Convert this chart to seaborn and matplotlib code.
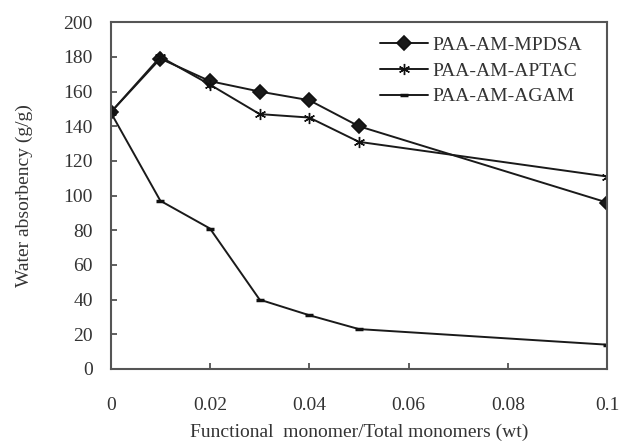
import matplotlib
matplotlib.use("Agg")
import matplotlib.pyplot as plt
import seaborn as sns
import pandas as pd

# data
ratio = [0, 0.01, 0.02, 0.03, 0.04, 0.05, 0.1]
mpdsa = [148, 179, 166, 160, 155, 140, 96]
aptac = [148, 180, 164, 147, 145, 131, 111]
agam = [148, 97, 81, 40, 31, 23, 14]
series_names = ["PAA-AM-MPDSA", "PAA-AM-APTAC", "PAA-AM-AGAM"]
x_ticks = [0, 0.02, 0.04, 0.06, 0.08, 0.1]
x_tick_labels = ["0", "0.02", "0.04", "0.06", "0.08", "0.1"]
y_ticks = list(range(0, 201, 20))

sns.set_style("ticks")
plt.rcParams["font.family"] = ["Liberation Serif", "DejaVu Serif"]

fig = plt.figure(figsize=(6.22, 4.44), dpi=100)
ax = fig.add_axes([0.178, 0.169, 0.798, 0.781])

styles = [
    dict(marker="D", markersize=7.5, markeredgewidth=1.2),
    dict(marker=(6, 2, 0), markersize=8, markeredgewidth=1.0),
    dict(marker="_", markersize=6, markeredgewidth=2.5),
]
for name, vals, st in zip(series_names, [mpdsa, aptac, agam], styles):
    df = pd.DataFrame({"ratio": ratio, "absorbency": vals})
    sns.lineplot(data=df, x="ratio", y="absorbency", color="#1a1a1a",
                 linewidth=1.4, markeredgecolor="#111111",
                 label=name, ax=ax, **st)

ax.set_xlim(0, 0.1)
ax.set_ylim(0, 200)
ax.set_xticks(x_ticks)
ax.set_xticklabels(x_tick_labels)
ax.set_yticks(y_ticks)
ax.tick_params(direction="in", length=4, width=1.2, color="#444444",
               labelsize=14, colors="#333333")
ax.tick_params(axis="x", pad=20)
ax.tick_params(axis="y", pad=13)
for s in ax.spines.values():
    s.set_visible(True)
    s.set_color("#555555")
    s.set_linewidth(1.5)

ax.set_xlabel("Functional  monomer/Total monomers (wt)", fontsize=14, color="#333333", labelpad=7)
ax.set_ylabel("Water absorbency (g/g)", fontsize=14, color="#333333", labelpad=22)

leg = ax.legend(loc="upper right", frameon=False, fontsize=14, handlelength=2.5,
                bbox_to_anchor=(0.985, 1.01), labelspacing=0.42, handletextpad=0.2)
for t in leg.get_texts():
    t.set_color("#333333")

fig.savefig("out.png", dpi=100)
